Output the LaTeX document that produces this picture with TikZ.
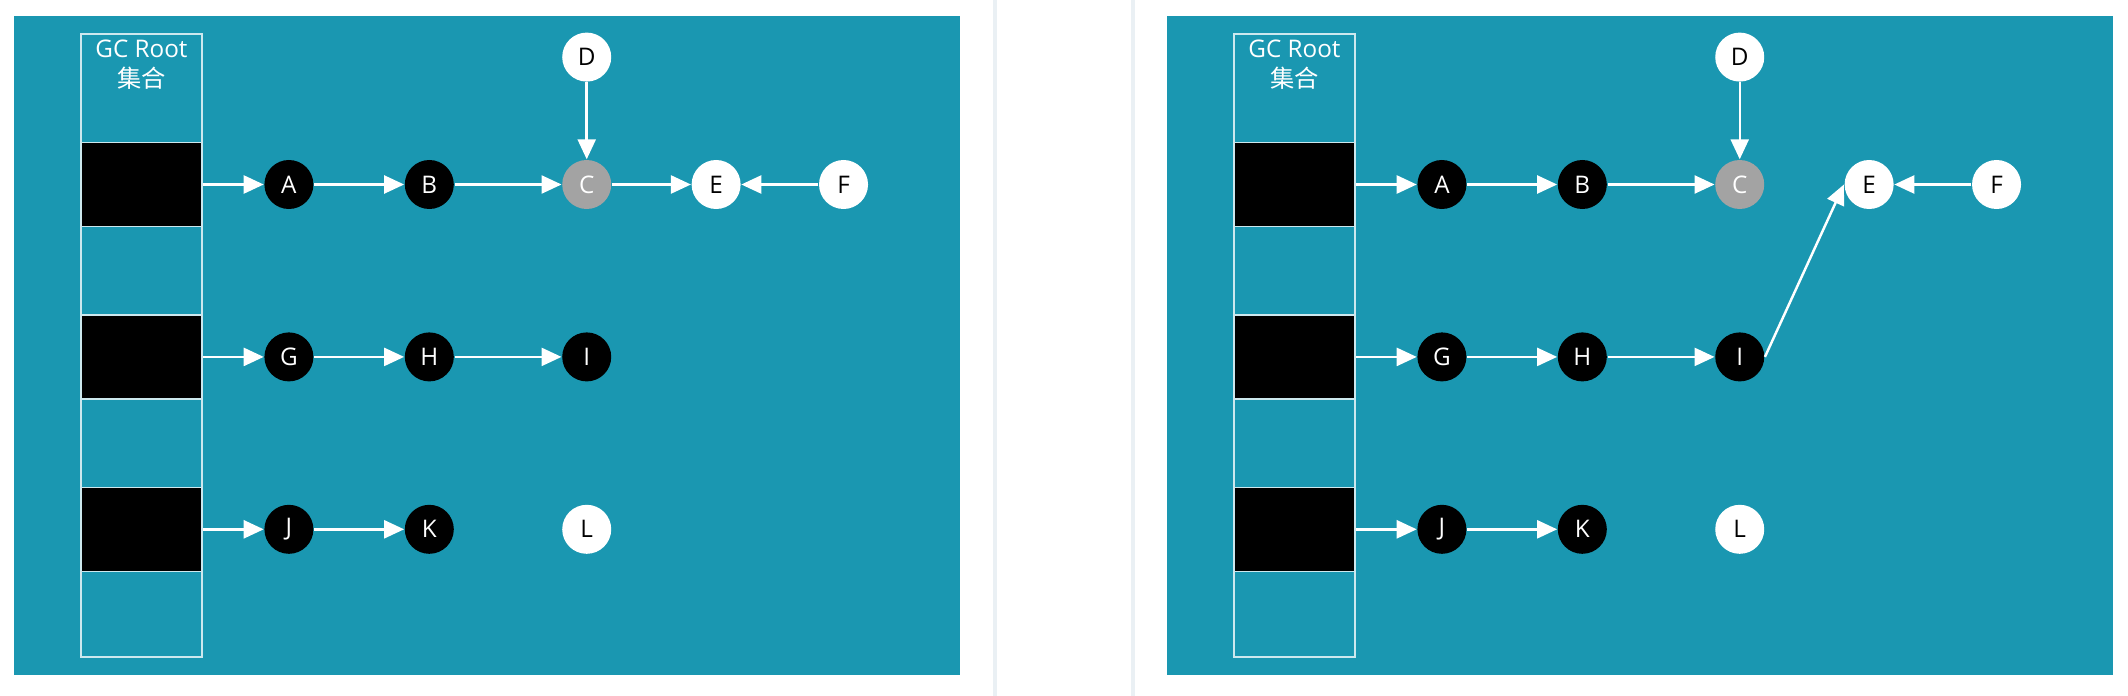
\documentclass[tikz,border=0pt]{standalone}
\usepackage{fontspec}
\setmainfont{Open Sans}
\newfontfamily\cjk{Noto Sans CJK SC}
\usetikzlibrary{arrows.meta,positioning}
\definecolor{gcbg}{RGB}{26,151,177}
\definecolor{gcline}{RGB}{205,232,238}
\definecolor{gcgray}{RGB}{163,163,163}
\definecolor{gcsep}{RGB}{234,240,244}

\begin{document}
\begin{tikzpicture}[
  >={Triangle[length=2mm,width=1.8mm]},
  every node/.style={font=\fontsize{6.9}{8.5}\selectfont},
  obj/.style={circle, minimum size=4.9mm, inner sep=0pt},
  live/.style={obj, fill=black, text=white},
  grey/.style={obj, fill=gcgray, text=white},
  dead/.style={obj, fill=white, text=black},
  slot/.style={draw=gcline, line width=0.4pt, fill=black, inner sep=0pt,
               minimum width=12.1mm, minimum height=8.4mm},
  ref/.style={->, draw=white, line width=0.7pt},
]
\fill[white] (0,0) rectangle (21.28,-6.96);
\useasboundingbox (0,0) rectangle (21.28,-6.96);
\draw[gcsep, line width=1pt] (9.95,0) -- (9.95,-6.96) (11.33,0) -- (11.33,-6.96);

% same heap on both sides, right one after the I -> E store
\foreach \p/\dx in {l/0, r/11.53} {
  \fill[gcbg] (0.14+\dx,-0.16) rectangle (9.60+\dx,-6.75);
  \node[draw=gcline, line width=0.4pt, inner sep=0pt,
        minimum width=12.1mm, minimum height=62.3mm] (\p col) at (1.415+\dx,-3.455) {};
  \node[text=white, align=center] (\p title) at (1.415+\dx,-0.65) {GC Root\\{\cjk 集合}};
  \node[slot] (\p r1) at (1.415+\dx,-1.845) {};
  \node[slot, below=0.87cm of \p r1] (\p r2) {};
  \node[slot, below=0.87cm of \p r2] (\p r3) {};

  \node[live, right=0.61cm of \p r1] (\p A) {A};
  \node[live, right=0.90cm of \p A] (\p B) {B};
  \node[grey, right=1.07cm of \p B] (\p C) {C};
  \node[dead, right=0.79cm of \p C] (\p E) {E};
  \node[dead, right=0.77cm of \p E] (\p F) {F};
  \node[dead, above=0.77cm of \p C] (\p D) {D};
  \node[live, right=0.61cm of \p r2] (\p G) {G};
  \node[live, right=0.90cm of \p G] (\p H) {H};
  \node[live, right=1.07cm of \p H] (\p I) {I};
  \node[live, right=0.61cm of \p r3] (\p J) {J};
  \node[live, right=0.90cm of \p J] (\p K) {K};
  \node[dead, right=1.07cm of \p K] (\p L) {L};

  \draw[ref] (\p r1) -- (\p A);
  \draw[ref] (\p A) -- (\p B);
  \draw[ref] (\p B) -- (\p C);
  \draw[ref] (\p D) -- (\p C);
  \draw[ref] (\p F) -- (\p E);
  \draw[ref] (\p r2) -- (\p G);
  \draw[ref] (\p G) -- (\p H);
  \draw[ref] (\p H) -- (\p I);
  \draw[ref] (\p r3) -- (\p J);
  \draw[ref] (\p J) -- (\p K);
}
\draw[ref] (lC) -- (lE);
\draw[ref] (rI.east) -- (rE.west);
\end{tikzpicture}
\end{document}
